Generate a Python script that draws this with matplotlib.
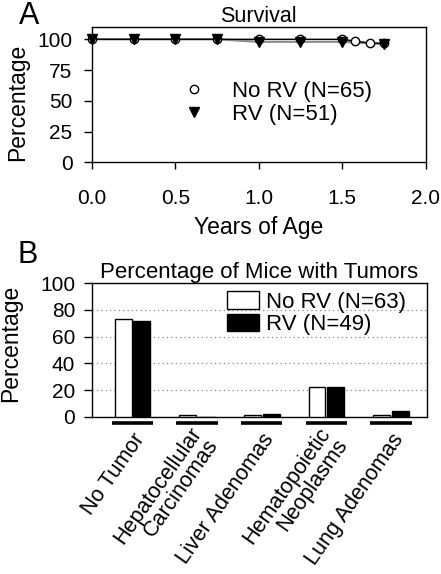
"""Survival curve and tumor incidence bar chart (two panels)."""

import matplotlib

matplotlib.use("Agg")
import matplotlib.pyplot as plt  # noqa: E402
import matplotlib.transforms as mtransforms  # noqa: E402
import numpy as np  # noqa: E402

plt.rcParams["font.family"] = ["Liberation Sans", "DejaVu Sans"]

# panel A: survival (%)
years_norv = [0.0, 0.25, 0.5, 0.75, 1.0, 1.25, 1.5, 1.58, 1.67, 1.75]
surv_norv = [100, 100, 100, 100, 100, 100, 100, 98.5, 96.9, 96.9]
years_rv = [0.0, 0.25, 0.5, 0.75, 1.0, 1.25, 1.5, 1.75]
surv_rv = [100, 100, 100, 100, 98.0, 98.0, 98.0, 96.1]
label_norv_a = "No RV (N=65)"
label_rv_a = "RV (N=51)"

# panel B: % of mice with tumors
categories = ["No Tumor", "Hepatocellular\nCarcinomas", "Liver Adenomas",
              "Hematopoietic\nNeoplasms", "Lung Adenomas"]
pct_norv = [73.0, 1.6, 1.6, 22.2, 1.6]
pct_rv = [71.4, 0.0, 2.0, 22.4, 4.1]
label_norv_b = "No RV (N=63)"
label_rv_b = "RV (N=49)"

W, H = 441, 574
fig = plt.figure(figsize=(W / 100, H / 100), dpi=100)


def box(l, t, r, b):
    return [l / W, 1 - b / H, (r - l) / W, (b - t) / H]


# ---------------- A ----------------
ax = fig.add_axes(box(92, 27, 425.5, 162.3))
ax.plot(years_norv, surv_norv, color="black", lw=1, zorder=2)
ax.plot(years_rv, surv_rv, color="#8a8a8a", lw=1.6, zorder=1)
ax.plot(years_norv, surv_norv, "o", ms=6, mfc="white", mec="black", mew=1,
        ls="none", label=label_norv_a, zorder=3, clip_on=False)
ax.plot(years_rv, surv_rv, "v", ms=7, color="black", ls="none",
        label=label_rv_a, zorder=4, clip_on=False)
ax.set_xlim(0, 2)
ax.set_ylim(0, 110)
ax.set_xticks(np.arange(0, 2.01, 0.5))
ax.set_xticklabels([f"{v:.1f}" for v in np.arange(0, 2.01, 0.5)])
ax.set_yticks([0, 25, 50, 75, 100])
ax.tick_params(axis="x", direction="out", length=5, width=1, labelsize=15, pad=14)
ax.tick_params(axis="y", direction="out", length=6, width=1, labelsize=15, pad=8)
for s in ax.spines.values():
    s.set_linewidth(1)
ax.set_xlabel("Years of Age", fontsize=16.5)
ax.xaxis.set_label_coords(0.5, -0.40)
fig.text(18 / W, 1 - 102 / H, "Percentage", fontsize=16.5, rotation=90,
         ha="center", va="center")
ax.set_title("Survival", fontsize=15.5, pad=3)
ax.legend(loc="center left", bbox_to_anchor=(0.274, 0.438), frameon=False,
          fontsize=16, handlelength=1.0, handletextpad=1.2, labelspacing=0.1,
          borderpad=0, borderaxespad=0, numpoints=1)
fig.text(19 / W, 1 - 1 / H, "A", fontsize=22, va="top", ha="left")

# ---------------- B ----------------
bx = fig.add_axes(box(92, 283.3, 427, 416.7))
x = np.arange(len(categories))
bw = 0.26
bx.bar(x - 0.145, pct_norv, bw, color="white", edgecolor="black", lw=1,
       label=label_norv_b, zorder=3)
bx.bar(x + 0.145, pct_rv, bw, color="black", edgecolor="black", lw=1,
       label=label_rv_b, zorder=3)
bx.set_xlim(-0.627, 4.557)
bx.set_ylim(0, 100)
bx.set_yticks(range(0, 101, 20))
bx.set_xticks([])
bx.yaxis.grid(True, ls=(0, (1, 2.5)), color="#888888", lw=0.9)
bx.set_axisbelow(True)
bx.tick_params(axis="y", direction="out", length=6, width=1, labelsize=15, pad=6)
for s in bx.spines.values():
    s.set_linewidth(1)
fig.text(11 / W, 1 - 343 / H, "Percentage", fontsize=16.5, rotation=90,
         ha="center", va="center")
bx.set_title("Percentage of Mice with Tumors", fontsize=16, pad=2)

# group markers below the axis and rotated category labels
trans = mtransforms.blended_transform_factory(bx.transData, bx.transAxes)
for i, name in enumerate(categories):
    bx.plot([i - 0.32, i + 0.32], [-0.045, -0.045], color="black", lw=2.6,
            transform=trans, clip_on=False, solid_capstyle="butt")
    bx.text(i + 0.13, -0.14, name, transform=trans, rotation=55,
            rotation_mode="anchor", ha="right", va="center",
            multialignment="right", fontsize=15.5, linespacing=0.95)

bx.legend(loc="center left", bbox_to_anchor=(0.403, 0.776), frameon=False,
          fontsize=16, handlelength=1.45, handleheight=0.85, handletextpad=0.3,
          labelspacing=0.05, borderpad=0, borderaxespad=0)
fig.text(18 / W, 1 - 240 / H, "B", fontsize=22, va="top", ha="left")

fig.savefig("out.png", dpi=100)
